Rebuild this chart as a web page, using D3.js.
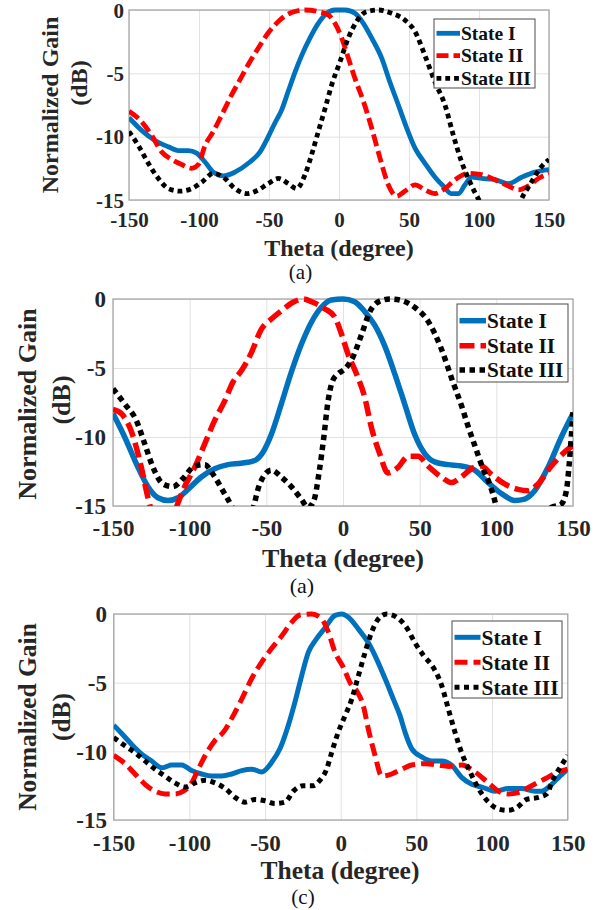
<!DOCTYPE html>
<html>
<head>
<meta charset="utf-8">
<script src="https://cdn.jsdelivr.net/npm/d3@7"></script>
<style>
  html, body { margin: 0; padding: 0; background: #fff; }
  svg { display: block; }
</style>
</head>
<body>
<svg id="fig" width="602" height="910"></svg>
<script>
// ---- data ---------------------------------------------------------------
const thetaTicks = [-150, -100, -50, 0, 50, 100, 150];
const gainTicks = [0, -5, -10, -15];
const stateNames = ["State I", "State II", "State III"];
const panelCaptions = ["(a)", "(a)", "(c)"];
const xLabel = "Theta (degree)";
const yLabelLines = ["Normalized Gain", "(dB)"];

// top panel: [theta (deg), normalized gain (dB)]
const topStateI = [[-150,-8.5],[-141,-9.5],[-131.4,-10.3],[-121.9,-10.8],[-114.8,-11.1],[-107.6,-11.1],[-101.7,-11.3],[-95.7,-12.0],[-89.8,-12.8],[-82.6,-13.1],[-74.3,-12.8],[-64.8,-12.1],[-56.4,-11.2],[-50.5,-10],[-45.7,-8.9],[-41,-7.9],[-36.2,-6.4],[-31.4,-4.9],[-26.7,-3.6],[-20.7,-2.2],[-14.8,-1.05],[-8.8,-0.26],[-2.9,0],[4.3,0],[11.4,-0.26],[17.4,-1.05],[23.3,-2.2],[30.5,-3.8],[36.4,-5.7],[42.4,-7.5],[48.3,-9.3],[54.3,-10.9],[61.4,-12.1],[68.6,-13.2],[74.5,-13.9],[80.5,-14.5],[85.2,-14.5],[90,-13.8],[94.8,-13.2],[101.9,-13.3],[111.4,-13.4],[121,-13.7],[130.5,-13.2],[140,-12.8],[150,-12.6]];
const topStateII = [[-150,-8.0],[-142.1,-8.7],[-133.8,-9.9],[-126.7,-11.2],[-119.5,-11.8],[-112.4,-12.2],[-105.2,-12.5],[-100.5,-12.2],[-95.7,-10.7],[-89.8,-9.6],[-83.8,-8.3],[-76.7,-6.7],[-70.7,-5.5],[-64.8,-4.3],[-57.6,-3.0],[-50.5,-1.8],[-43.3,-0.9],[-33.8,-0.2],[-24.3,0],[-14.8,-0.13],[-7.6,-0.4],[-2.9,-1.05],[1.9,-2.2],[6.7,-3.8],[11.4,-5.4],[17.4,-7.2],[23.3,-9.3],[29.3,-11.7],[35.2,-13.8],[41.2,-14.7],[47.1,-14.3],[54.3,-13.8],[61.4,-14.2],[68.6,-14.5],[75.7,-14.1],[82.9,-13.4],[92.4,-12.9],[101.9,-13.0],[111.4,-13.4],[121,-13.9],[128.1,-14.2],[135.2,-13.9],[142.4,-13.3],[150,-12.9]];
const topStateIII = [[-150,-9.6],[-143.3,-10.7],[-136.2,-12.1],[-129,-13.3],[-121.9,-14.1],[-113.6,-14.3],[-105.2,-14.1],[-98.1,-13.6],[-89.8,-12.9],[-82.6,-13.2],[-74.3,-14.1],[-66,-14.5],[-57.6,-14.2],[-50.5,-13.7],[-43.3,-13.3],[-36.2,-13.7],[-30.2,-14.1],[-24.3,-13.0],[-19.5,-11.4],[-14.8,-9.6],[-10,-7.8],[-5.2,-5.9],[0.7,-4.1],[6.7,-2.2],[12.6,-0.9],[19.8,-0.13],[28.1,0],[37.6,-0.26],[47.1,-0.8],[54.3,-1.7],[61.4,-3.6],[68.6,-5.7],[75.7,-7.5],[81.7,-9.9],[87.6,-12.0],[93.6,-13.6],[99.5,-14.9],[103,-15.5],[112,-17],[122,-17],[127,-16],[130.5,-14.9],[136.4,-13.8],[143.6,-12.5],[150,-11.8]];

// middle panel
const midStateI = [[-150,-8.3],[-142.4,-10.0],[-133.7,-12.2],[-127.2,-13.6],[-120.7,-14.4],[-114.1,-14.6],[-107.6,-14.4],[-101.1,-13.8],[-92.4,-12.9],[-83.7,-12.3],[-75,-12.0],[-66.3,-11.9],[-57.6,-11.7],[-52.2,-11.1],[-46.7,-9.8],[-40.2,-7.6],[-33.7,-5.3],[-27.2,-3.3],[-20.7,-1.7],[-14.1,-0.6],[-7.6,-0.07],[0,0],[7.6,-0.2],[14.1,-0.9],[20.7,-1.9],[27.2,-3.4],[33.7,-5.4],[40.2,-7.6],[46.7,-9.8],[53.3,-11.2],[59.8,-11.8],[68.5,-12.0],[77.2,-12.1],[85.9,-12.4],[94.6,-13.3],[103.3,-14.1],[112,-14.6],[118.5,-14.5],[125,-13.9],[133.7,-12.2],[142.4,-10.0],[150,-8.3]];
const midStateII = [[-150,-8.0],[-144.6,-8.3],[-138,-9.6],[-131.5,-12.2],[-127.2,-14.4],[-125,-15.3],[-118,-17],[-112,-16.2],[-108.7,-15.1],[-103.3,-13.6],[-96.7,-12.2],[-90.2,-10.5],[-83.7,-8.8],[-77.2,-7.4],[-71.7,-6.0],[-66.3,-5.2],[-59.8,-3.9],[-53.3,-2.2],[-46.7,-1.45],[-40.2,-0.85],[-32.6,-0.24],[-26.1,0],[-19.6,-0.24],[-12,-0.7],[-5.4,-1.3],[-1.1,-2.5],[3.3,-4.0],[8.7,-5.4],[14.1,-7.1],[18.5,-9.3],[23.9,-11.2],[29.3,-12.6],[35.9,-12.2],[42.4,-11.4],[48.9,-11.4],[55.4,-12.1],[64.1,-12.9],[70.7,-13.3],[77.2,-12.9],[83.7,-12.3],[90.2,-12.1],[96.7,-12.7],[105.4,-13.4],[114.1,-13.8],[120.6,-13.9],[127.2,-13.4],[135.9,-12.1],[143.5,-11.2],[150,-10.6]];
const midStateIII = [[-150,-6.5],[-142.4,-7.6],[-134.8,-8.8],[-129.3,-10.5],[-123.9,-12.2],[-117.4,-13.4],[-110.9,-13.6],[-104.3,-13.0],[-96.7,-12.1],[-90.2,-12.0],[-84.8,-12.7],[-78.3,-13.9],[-72.8,-15.0],[-69,-16],[-65,-16.8],[-61,-16],[-58.7,-15.2],[-54.3,-13.4],[-46.7,-12.4],[-40.2,-12.9],[-33.7,-13.6],[-27.2,-14.5],[-22.8,-15.1],[-19,-14.6],[-15.5,-12.5],[-12.5,-10],[-10,-7.6],[-7,-6],[-3,-5.4],[1,-5.1],[6.5,-4.2],[12,-2.6],[17.6,-0.9],[24,-0.15],[31,0],[38,-0.1],[46.7,-0.6],[55.4,-1.6],[64.1,-3.6],[71,-5.8],[77.5,-7.8],[81.5,-9.2],[85.9,-10.6],[91.3,-12.3],[95.6,-13.4],[98.7,-14.5],[101,-15.5],[110,-18],[125,-18],[132,-16],[135.9,-15.1],[142,-14.9],[145.5,-14.0],[147.5,-12],[149,-9.8],[150,-8.2]];

// bottom panel
const botStateI = [[-150,-8.1],[-144.7,-8.7],[-138.1,-9.5],[-131.5,-10.2],[-124.9,-10.7],[-118.3,-11.2],[-111.7,-11.0],[-105.1,-11.0],[-98.5,-11.4],[-91.9,-11.65],[-85.2,-11.8],[-78.6,-11.8],[-72,-11.65],[-65.4,-11.4],[-58.8,-11.3],[-52.2,-11.5],[-45.6,-10.8],[-40.1,-9.8],[-34.6,-8.1],[-30.2,-6.4],[-25.8,-4.5],[-21.4,-2.8],[-15.9,-1.8],[-10.3,-1.0],[-3.7,-0.1],[0.7,0],[5.1,-0.24],[11.7,-1.1],[18.3,-2.1],[23.8,-3.3],[29.3,-4.7],[34.8,-6.2],[39.2,-7.4],[42.5,-8.6],[46.9,-9.8],[53.5,-10.4],[60.1,-10.7],[66.7,-10.7],[73.3,-11.0],[79.9,-11.9],[86.6,-12.4],[93.2,-12.6],[102,-12.9],[110.8,-12.7],[119.6,-12.7],[128.4,-12.9],[132.8,-12.9],[139.4,-12.4],[144.9,-11.8],[150,-11.3]];
const botStateII = [[-150,-10.3],[-142.5,-10.9],[-135.9,-11.65],[-129.3,-12.4],[-122.7,-12.9],[-116.1,-13.1],[-109.5,-13.1],[-104,-12.9],[-98.5,-12.3],[-94.1,-11.3],[-88.5,-10.1],[-83,-9.2],[-77.5,-8.6],[-72,-7.6],[-65.4,-6.2],[-58.8,-4.7],[-52.2,-3.5],[-45.6,-2.5],[-39,-1.6],[-32.4,-0.6],[-26.9,-0.07],[-19.2,0],[-12.6,-0.36],[-8.2,-1.3],[-3.7,-2.8],[1.8,-3.9],[6.2,-5.0],[10.6,-5.6],[15,-6.7],[18.3,-8.4],[22.7,-10.3],[27.1,-11.8],[33.7,-11.65],[40.3,-11.3],[46.9,-11.0],[55.7,-10.9],[64.5,-11.0],[71.1,-11.1],[79.9,-11.0],[88.7,-11.5],[97.6,-12.3],[104.2,-12.9],[110.8,-13.1],[117.4,-13.0],[126.2,-12.5],[135,-12.0],[143.8,-11.5],[150,-11.3]];
const botStateIII = [[-150,-9.0],[-142.5,-9.6],[-135.9,-10.1],[-129.3,-10.7],[-122.7,-11.3],[-116.1,-11.8],[-109.5,-12.3],[-102.9,-12.6],[-96.3,-12.3],[-89.6,-12.1],[-83,-12.3],[-76.4,-12.7],[-69.8,-13.35],[-63.2,-13.7],[-56.6,-13.5],[-50,-13.6],[-43.4,-13.8],[-36.8,-13.7],[-31.3,-12.9],[-24.7,-12.5],[-18.1,-12.5],[-13.7,-12.1],[-9.3,-11.3],[-6,-10.1],[-1.6,-8.6],[2.9,-7.4],[7.3,-6.2],[11.7,-4.5],[16.1,-2.8],[20.5,-1.3],[24.9,-0.36],[30.4,0],[37,-0.24],[43.6,-1.0],[49.1,-2.1],[54.6,-3.0],[61.2,-3.9],[66.7,-5.2],[71.1,-6.9],[75.5,-8.6],[79.9,-10.1],[85.5,-11.5],[91,-12.7],[97.6,-13.7],[104.2,-14.2],[110.8,-14.3],[116.3,-14.1],[122.9,-13.5],[130.6,-13.35],[136.1,-13.1],[140.5,-12.0],[146,-11.0],[150,-10.3]];

// ---- styling / layout ---------------------------------------------------
const colors = ["#0072BD", "#FF0000", "#000000"];
const serif = "'Liberation Serif', 'Times New Roman', Times, serif";

const panels = [
  { series: [topStateI, topStateII, topStateIII], caption: panelCaptions[0],
    x0: 129, x1: 549, y0: 10, y1: 200,
    tickFont: 21, labelFont: 24, capFont: 21, lw: 4.8, dash: "12,5", dot: "4.8,4",
    tickRight: 124, tickY: 220, xLabelX: 339, xLabelY: 248,
    yLabelX: 50, yLabelY: 105, dbX: 80, dbY: 83, capX: 300.5, capY: 273,
    legend: { x: 434, y: 19, w: 101, h: 69, rows: [33.3, 55.7, 78.3], sx0: 436.5, sx1: 460, tx: 461, font: 19.5 } },
  { series: [midStateI, midStateII, midStateIII], caption: panelCaptions[1],
    x0: 113, x1: 573, y0: 299, y1: 506,
    tickFont: 23, labelFont: 26, capFont: 22, lw: 5.5, dash: "15,6", dot: "5.5,4.5",
    tickRight: 106, tickY: 528, xLabelX: 343, xLabelY: 558,
    yLabelX: 27, yLabelY: 404, dbX: 62, dbY: 400, capX: 302, capY: 586,
    legend: { x: 457, y: 304, w: 111, h: 78, rows: [320.7, 345.7, 370], sx0: 459.5, sx1: 486, tx: 487, font: 21.3 } },
  { series: [botStateI, botStateII, botStateIII], caption: panelCaptions[2],
    x0: 113.7, x1: 567.7, y0: 614, y1: 820,
    tickFont: 23, labelFont: 25.5, capFont: 21, lw: 5, dash: "13,6", dot: "5,4.5",
    tickRight: 107, tickY: 843, xLabelX: 340, xLabelY: 870,
    yLabelX: 27, yLabelY: 717, dbX: 62, dbY: 717, capX: 303, capY: 898,
    legend: { x: 452, y: 621, w: 110, h: 77, rows: [637.3, 662.3, 687.3], sx0: 454.5, sx1: 480.5, tx: 481.5, font: 21.5 } }
];

const svg = d3.select("#fig");

function strokeStyle(sel, i, p) {
  sel.attr("fill", "none")
     .attr("stroke", colors[i])
     .attr("stroke-width", p.lw)
     .attr("stroke-linecap", "butt")
     .attr("stroke-linejoin", "round")
     .attr("stroke-dasharray", i === 0 ? null : (i === 1 ? p.dash : p.dot));
}

panels.forEach((p, k) => {
  const x = d3.scaleLinear().domain([-150, 150]).range([p.x0, p.x1]);
  const y = d3.scaleLinear().domain([-15, 0]).range([p.y1, p.y0]);
  const w = p.x1 - p.x0, h = p.y1 - p.y0;
  const g = svg.append("g");

  // grid
  g.append("g")
    .attr("transform", `translate(0,${p.y1})`)
    .call(d3.axisBottom(x).tickValues(thetaTicks).tickSize(-h).tickFormat(""))
    .call(s => s.select(".domain").remove())
    .call(s => s.selectAll("line").attr("stroke", "#e2e2e2").attr("stroke-width", 1));
  g.append("g")
    .attr("transform", `translate(${p.x0},0)`)
    .call(d3.axisLeft(y).tickValues(gainTicks).tickSize(-w).tickFormat(""))
    .call(s => s.select(".domain").remove())
    .call(s => s.selectAll("line").attr("stroke", "#e2e2e2").attr("stroke-width", 1));

  // axes box
  g.append("rect")
    .attr("x", p.x0).attr("y", p.y0).attr("width", w).attr("height", h)
    .attr("fill", "none").attr("stroke", "#a8a8a8").attr("stroke-width", 1.3);

  // tick labels
  const xAxis = g.append("g")
    .attr("transform", `translate(0,${p.tickY})`)
    .call(d3.axisBottom(x).tickValues(thetaTicks).tickSize(0).tickPadding(0).tickFormat(d => String(d)));
  xAxis.select(".domain").remove();
  xAxis.selectAll("text")
    .attr("y", 0).attr("dy", "0.34em")
    .attr("font-family", serif).attr("font-weight", "bold")
    .attr("font-size", p.tickFont).attr("fill", "#262626");

  const yAxis = g.append("g")
    .attr("transform", `translate(${p.tickRight},0)`)
    .call(d3.axisLeft(y).tickValues(gainTicks).tickSize(0).tickPadding(0).tickFormat(d => String(d)));
  yAxis.select(".domain").remove();
  yAxis.selectAll("text")
    .attr("x", 0).attr("dy", "0.34em")
    .attr("font-family", serif).attr("font-weight", "bold")
    .attr("font-size", p.tickFont).attr("fill", "#262626");

  // curves, clipped to the axes
  const clipId = `clip${k}`;
  svg.append("clipPath").attr("id", clipId)
    .append("rect").attr("x", p.x0).attr("y", p.y0 - 3).attr("width", w).attr("height", h + 3);
  const line = d3.line().x(d => x(d[0])).y(d => y(d[1])).curve(d3.curveMonotoneX);
  const curves = g.append("g").attr("clip-path", `url(#${clipId})`);
  p.series.forEach((data, i) => {
    curves.append("path").datum(data).attr("d", line).call(strokeStyle, i, p);
  });

  // legend
  const L = p.legend;
  const lg = g.append("g");
  lg.append("rect")
    .attr("x", L.x).attr("y", L.y).attr("width", L.w).attr("height", L.h)
    .attr("fill", "#fff").attr("stroke", "#4a4a4a").attr("stroke-width", 1);
  stateNames.forEach((name, i) => {
    lg.append("line")
      .attr("x1", L.sx0).attr("x2", L.sx1).attr("y1", L.rows[i]).attr("y2", L.rows[i])
      .call(strokeStyle, i, p);
    lg.append("text")
      .attr("x", L.tx).attr("y", L.rows[i]).attr("dy", "0.34em")
      .attr("font-family", serif).attr("font-weight", "bold")
      .attr("font-size", L.font).attr("fill", "#111")
      .text(name);
  });

  // axis labels
  g.append("text")
    .attr("x", p.xLabelX).attr("y", p.xLabelY).attr("dy", "0.34em")
    .attr("text-anchor", "middle")
    .attr("font-family", serif).attr("font-weight", "bold")
    .attr("font-size", p.labelFont).attr("fill", "#262626")
    .text(xLabel);
  g.append("text")
    .attr("transform", `translate(${p.yLabelX},${p.yLabelY}) rotate(-90)`)
    .attr("dy", "0.34em").attr("text-anchor", "middle")
    .attr("font-family", serif).attr("font-weight", "bold")
    .attr("font-size", p.labelFont).attr("fill", "#262626")
    .text(yLabelLines[0]);
  g.append("text")
    .attr("transform", `translate(${p.dbX},${p.dbY}) rotate(-90)`)
    .attr("dy", "0.3em").attr("text-anchor", "middle")
    .attr("font-family", serif).attr("font-weight", "bold")
    .attr("font-size", p.labelFont).attr("fill", "#262626")
    .text(yLabelLines[1]);

  // caption
  g.append("text")
    .attr("x", p.capX).attr("y", p.capY).attr("dy", "0.3em")
    .attr("text-anchor", "middle")
    .attr("font-family", serif)
    .attr("font-size", p.capFont).attr("fill", "#111")
    .text(p.caption);
});
</script>
</body>
</html>
